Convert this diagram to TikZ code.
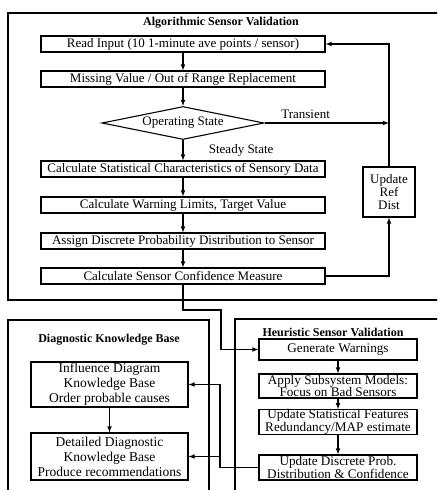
\documentclass[tikz,border=0pt]{standalone}
\usepackage{fontspec}
\setmainfont{Liberation Serif}
\usetikzlibrary{arrows,shapes.geometric}

\begin{document}
\begin{tikzpicture}[x=1pt, y=-1pt, line width=1.1pt, >=latex,
  box/.style = {draw, minimum width=284pt, minimum height=16pt, inner sep=0pt, font=\fontsize{13}{13}\selectfont},
  hbox/.style = {draw, minimum width=158pt, inner sep=0pt, align=center, font=\fontsize{13.2}{12.5}\selectfont},
  dbox/.style = {draw, minimum width=157pt, inner sep=0pt, align=center, font=\fontsize{13.5}{15}\selectfont},
  ttl/.style = {font=\bfseries\fontsize{12}{12}\selectfont},
  lbl/.style = {font=\fontsize{13}{13}\selectfont}]
\path[use as bounding box, clip] (0,0) rectangle (437,490);

% frames
\draw (8,13) rectangle (450,300);
\draw (8,320) rectangle (209,500);
\draw (235,319) rectangle (450,500);
\node[ttl] (t1) at (221,23) {Algorithmic Sensor Validation};
\node[ttl] (t2) at (109,340) {Diagnostic Knowledge Base};
\node[ttl] (t3) at (333,332) {Heuristic Sensor Validation};

% algorithmic column
\node[box] (read) at (183,44) {Read Input (10 1-minute ave points / sensor)};
\node[box] (miss) [below of=read, node distance=35pt] {Missing Value / Out of Range Replacement};
\node[draw, diamond, aspect=5, minimum width=162pt, minimum height=33pt, inner sep=0pt, lbl] (state) [below of=miss, node distance=44pt] {Operating State};
\node[box] (stat) [below of=state, node distance=46pt] {Calculate Statistical Characteristics of Sensory Data};
\node[box] (warn) [below of=stat, node distance=36pt] {Calculate Warning Limits, Target Value};
\node[box] (assign) [below of=warn, node distance=36pt] {Assign Discrete Probability Distribution to Sensor};
\node[box] (conf) [below of=assign, node distance=35pt] {Calculate Sensor Confidence Measure};
\node[draw, minimum width=52pt, minimum height=50pt, inner sep=0pt, align=center, lbl] (upd) at (389,192) {Update\\Ref\\Dist};

% heuristic column
\node[hbox, minimum height=21pt] (gen) at (338,349.5) {Generate Warnings};
\node[hbox, minimum height=24pt] (apply) [below of=gen, node distance=36.5pt] {Apply Subsystem Models:\\Focus on Bad Sensors};
\node[hbox, minimum height=20pt] (ustat) [below of=apply, node distance=36pt] {Update Statistical Features\\Redundancy/MAP estimate};
\node[hbox, minimum height=25pt] (udisc) [below of=ustat, node distance=45.5pt] {Update Discrete Prob.\\Distribution \& Confidence};

% diagnostic column
\node[dbox, minimum height=45pt] (infl) at (109.5,384.5) {Influence Diagram\\Knowledge Base\\Order probable causes};
\node[dbox, minimum height=47pt] (detail) [below of=infl, node distance=72pt] {Detailed Diagnostic\\Knowledge Base\\Produce recommendations};

\coordinate (bend) at (221,310);
\coordinate (joint) at (220,384.5);

\draw[->] (read) -- (miss);
\draw[->] (miss) -- (state);
\draw[->] (state) -- node[lbl, right, xshift=22pt] {Steady State} (stat);
\draw[->] (stat) -- (warn);
\draw[->] (warn) -- (assign);
\draw[->] (assign) -- (conf);
\draw[->] (state.east) -- node[lbl, above, pos=0.33] {Transient} (state.east -| upd);
\draw[->] (upd) |- (read);
\draw[->] (conf) -| (upd);
\draw[->] (conf) |- (bend) |- (gen);
\draw[->] (gen) -- (apply);
\draw[->] (apply) -- (ustat);
\draw[->] (ustat) -- (udisc);
\draw[->] (udisc) -| (joint) -- (infl);
\draw[->] (joint |- detail) -- (detail);
\draw[->] (infl) -- (detail);
\end{tikzpicture}
\end{document}
